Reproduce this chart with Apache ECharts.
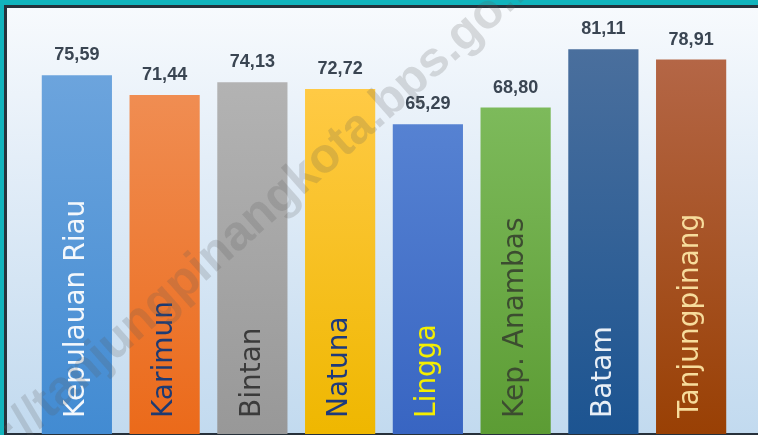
<!DOCTYPE html>
<html>
<head>
<meta charset="utf-8">
<script src="https://cdn.jsdelivr.net/npm/echarts@6/dist/echarts.min.js"></script>
<style>
  html, body { margin: 0; padding: 0; }
  body { width: 758px; height: 435px; background: #12b4bd; position: relative; overflow: hidden; }
  #panel {
    position: absolute; left: 4px; top: 5px; right: 0; bottom: 0;
    border-left: 3px solid #27313b; border-top: 3px solid #27313b; border-bottom: 2px solid #27313b;
    background: linear-gradient(to bottom, #f7fafd 0%, #e4eef8 35%, #c2daef 100%);
  }
  #chart { position: absolute; left: 0; top: 0; width: 758px; height: 435px; }
</style>
</head>
<body>
<div id="panel"></div>
<div id="chart"></div>
<script>
// kabupaten / kota
var wilayah = ['Kepulauan Riau', 'Karimun', 'Bintan', 'Natuna', 'Lingga', 'Kep. Anambas', 'Batam', 'Tanjungpinang'];
var nilai = [75.59, 71.44, 74.13, 72.72, 65.29, 68.80, 81.11, 78.91];

// warna batang (atas, bawah) dan warna teks nama
var warnaAtas = ['#6ca4dd', '#f08d52', '#b3b3b3', '#ffca45', '#5682d2', '#7dba5b', '#4a6f9d', '#b46646'];
var warnaBawah = ['#428bd2', '#eb6a1a', '#989898', '#efb700', '#3865c2', '#5c9c34', '#1c5491', '#994004'];
var warnaNama = ['#f4f8fc', '#1e3a72', '#3b3b3b', '#1e3a7c', '#f4ee00', '#3c4c30', '#e9eff6', '#f7dc9c'];

var chart = echarts.init(document.getElementById('chart'));

var dataBar = nilai.map(function (v, i) {
  return {
    value: v,
    itemStyle: {
      color: new echarts.graphic.LinearGradient(0, 0, 0, 1, [
        { offset: 0, color: warnaAtas[i] },
        { offset: 1, color: warnaBawah[i] }
      ])
    }
  };
});

var dataNama = nilai.map(function (v, i) {
  return {
    value: v,
    label: { color: warnaNama[i] }
  };
});

var option = {
  animation: false,
  grid: { left: 33, right: 23, top: 7, bottom: 1 },
  xAxis: {
    type: 'category',
    data: wilayah,
    axisLine: { show: false },
    axisTick: { show: false },
    axisLabel: { show: false }
  },
  yAxis: {
    type: 'value',
    min: 0,
    max: 90,
    show: false,
    splitLine: { show: false }
  },
  series: [
    {
      type: 'bar',
      data: dataBar,
      barCategoryGap: '20%',
      label: {
        show: true,
        position: 'top',
        distance: 11,
        fontFamily: 'Liberation Sans, Arial, sans-serif',
        fontWeight: 'bold',
        fontSize: 18,
        color: '#3a4552',
        formatter: function (p) { return p.value.toFixed(2).replace('.', ','); }
      },
      z: 2
    },
    {
      // lapisan kedua untuk nama wilayah di dalam batang
      type: 'bar',
      data: dataNama,
      barGap: '-100%',
      barCategoryGap: '20%',
      itemStyle: { color: 'transparent' },
      label: {
        show: true,
        position: 'insideBottom',
        rotate: 90,
        align: 'left',
        verticalAlign: 'middle',
        distance: 16,
        fontFamily: 'DejaVu Sans',
        fontSize: 28,
        formatter: function (p) { return p.name; }
      },
      z: 3
    }
  ],
  graphic: [
    {
      // watermark
      type: 'text',
      x: -62,
      y: 500,
      rotation: 0.724,
      silent: true,
      z: 10,
      style: {
        text: 'http://tanjungpinangkota.bps.go.id',
        font: 'bold 49px Liberation Sans, Arial, sans-serif',
        fill: 'rgba(90,90,90,0.2)',
        textAlign: 'left',
        textVerticalAlign: 'middle'
      }
    }
  ]
};

chart.setOption(option);
</script>
</body>
</html>
